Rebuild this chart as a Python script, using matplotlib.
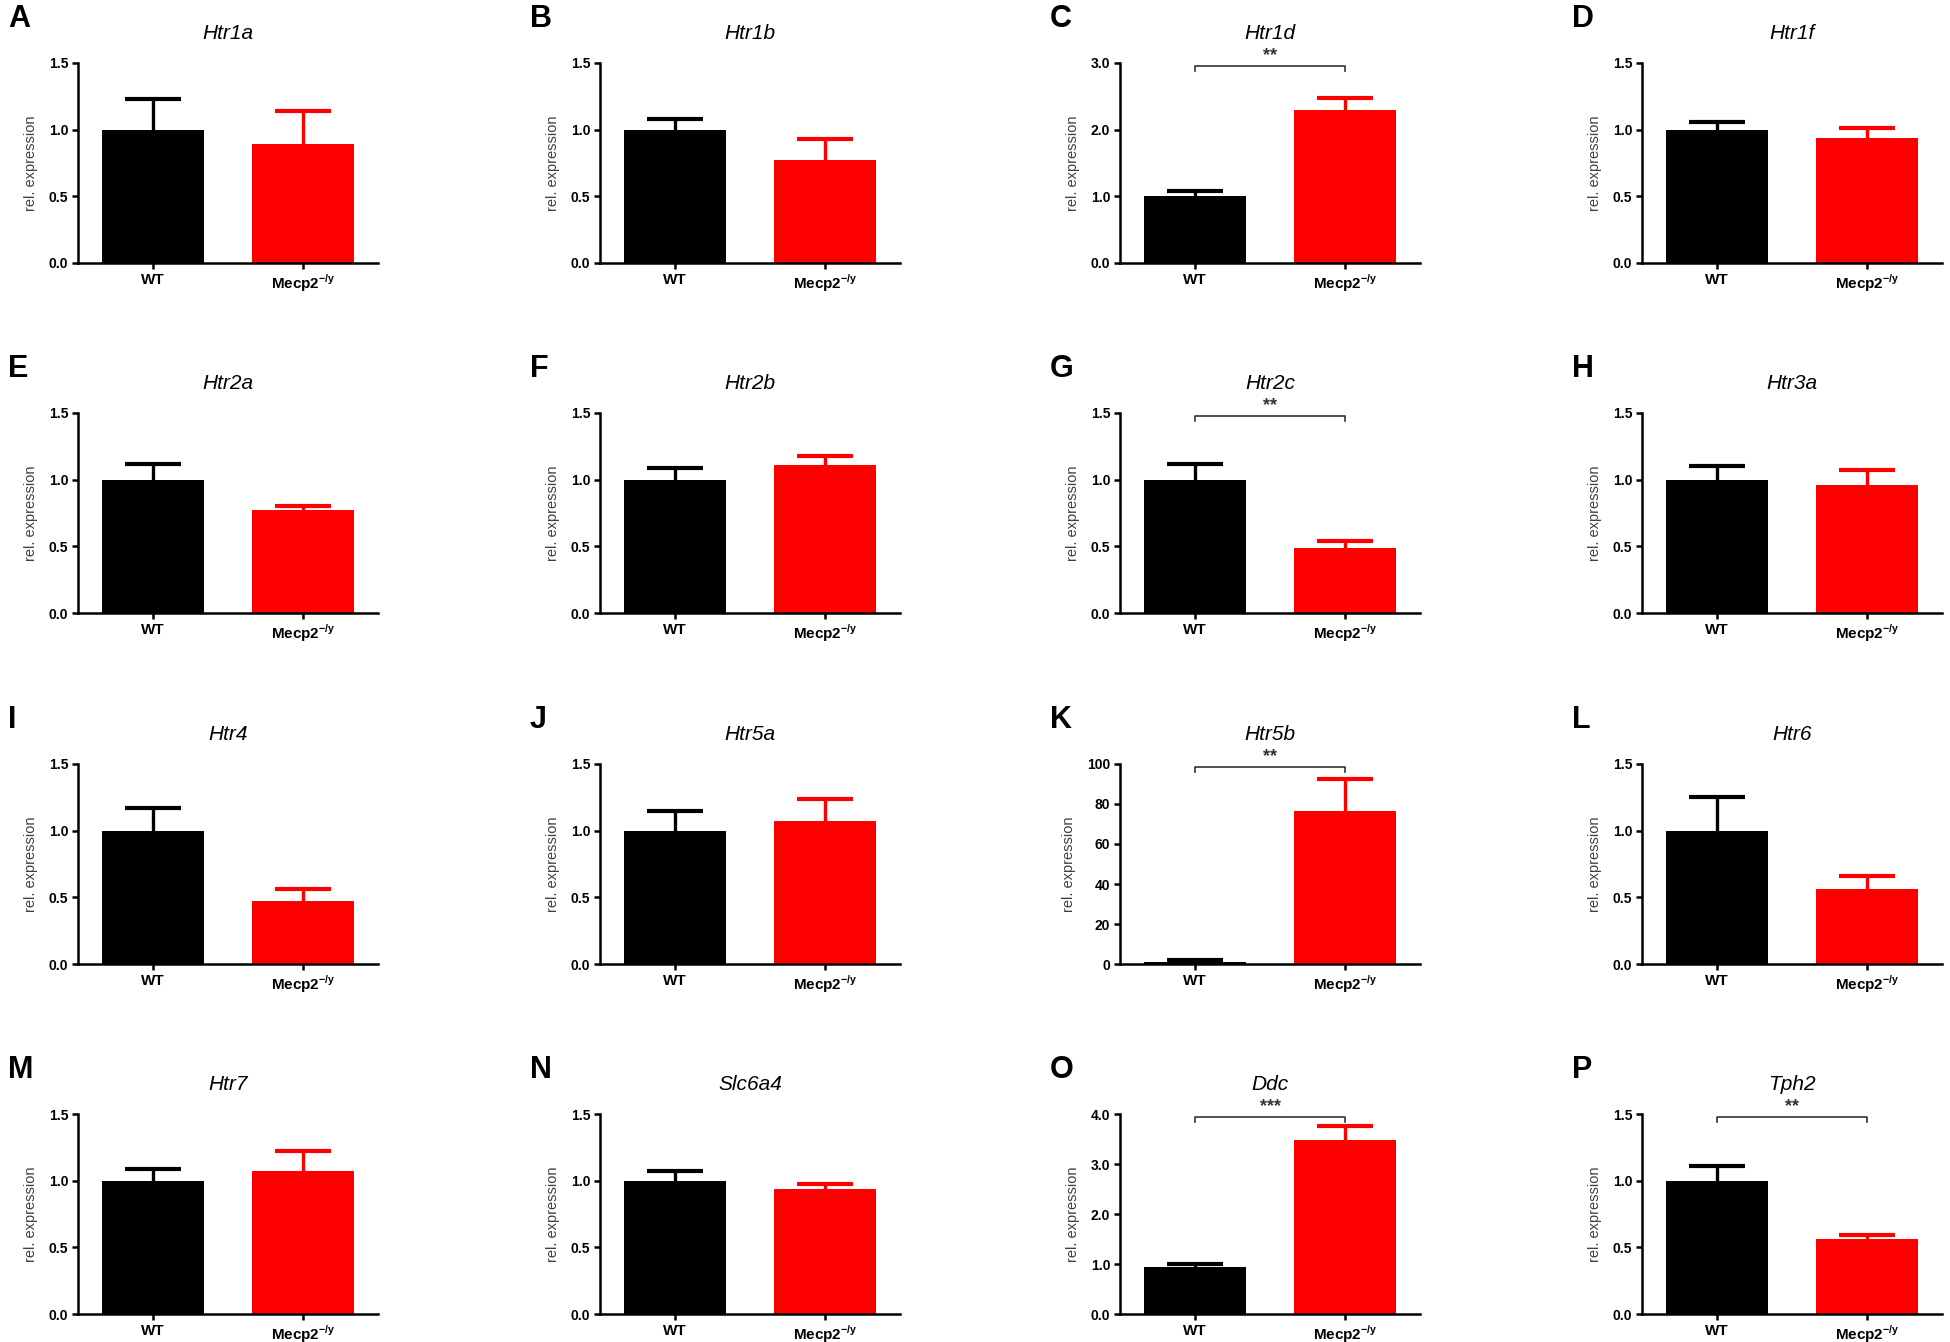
import numpy as np
import matplotlib.pyplot as plt

plt.rcParams['font.family'] = ['Liberation Sans', 'DejaVu Sans']
plt.rcParams['mathtext.fontset'] = 'custom'
plt.rcParams['mathtext.rm'] = 'Liberation Sans'
plt.rcParams['mathtext.bf'] = 'Liberation Sans:bold'

# panel data
letters = list("ABCDEFGHIJKLMNOP")
genes = ["Htr1a", "Htr1b", "Htr1d", "Htr1f",
         "Htr2a", "Htr2b", "Htr2c", "Htr3a",
         "Htr4", "Htr5a", "Htr5b", "Htr6",
         "Htr7", "Slc6a4", "Ddc", "Tph2"]
groups = ["WT", r"Mecp2$^{\mathbf{-/y}}$"]
wt_mean = [1.0, 1.0, 1.0, 1.0, 1.0, 1.0, 1.0, 1.0,
           1.0, 1.0, 1.0, 1.0, 1.0, 1.0, 0.95, 1.0]
wt_sem = [0.23, 0.08, 0.08, 0.06, 0.12, 0.09, 0.12, 0.10,
          0.17, 0.15, 0.8, 0.25, 0.09, 0.07, 0.05, 0.11]
ko_mean = [0.89, 0.77, 2.29, 0.94, 0.77, 1.11, 0.49, 0.96,
           0.47, 1.07, 76.7, 0.56, 1.07, 0.94, 3.48, 0.56]
ko_sem = [0.25, 0.16, 0.18, 0.07, 0.03, 0.07, 0.05, 0.11,
          0.09, 0.17, 15.8, 0.10, 0.15, 0.035, 0.29, 0.035]
ymax = [1.5, 1.5, 3.0, 1.5, 1.5, 1.5, 1.5, 1.5,
        1.5, 1.5, 100, 1.5, 1.5, 1.5, 4.0, 1.5]
ystep = [0.5, 0.5, 1.0, 0.5, 0.5, 0.5, 0.5, 0.5,
         0.5, 0.5, 20, 0.5, 0.5, 0.5, 1.0, 0.5]
stars = {"C": "**", "G": "**", "K": "**", "O": "***", "P": "**"}

W, H = 1950, 1342
fig = plt.figure(figsize=(W / 100, H / 100), dpi=100)

col_x = [78, 600, 1120, 1642]
row_bottom = [263, 613, 964, 1314]
ax_w, ax_h = 300, 200
colors = ["black", "#ff0000"]

for i, letter in enumerate(letters):
    r, c = divmod(i, 4)
    x0 = col_x[c]
    y0 = row_bottom[r]
    ax = fig.add_axes([x0 / W, 1 - y0 / H, ax_w / W, ax_h / H])

    means = [wt_mean[i], ko_mean[i]]
    errs = [wt_sem[i], ko_sem[i]]
    for j in range(2):
        ax.bar(j, means[j], width=0.68, color=colors[j], zorder=2)
        _, caps, _ = ax.errorbar(j, means[j], yerr=[[0], [errs[j]]],
                                 color=colors[j], elinewidth=2.4,
                                 capsize=20, capthick=3, zorder=1)
        # keep only the upper cap
        for cap in caps:
            if np.isclose(cap.get_ydata()[0], means[j]):
                cap.set_visible(False)

    ax.set_xlim(-0.5, 1.5)
    ax.set_ylim(0, ymax[i])
    ticks = np.arange(0, ymax[i] + ystep[i] / 2, ystep[i])
    ax.set_yticks(ticks)
    if ymax[i] >= 10:
        ax.set_yticklabels([f"{t:.0f}" for t in ticks])
    else:
        ax.set_yticklabels([f"{t:.1f}" for t in ticks])
    ax.set_xticks([0, 1])
    ax.set_xticklabels(groups)

    for s in ["top", "right"]:
        ax.spines[s].set_visible(False)
    for s in ["left", "bottom"]:
        ax.spines[s].set_linewidth(1.8)
    ax.tick_params(axis="both", width=1.8, length=4, pad=3)
    ax.tick_params(axis="y", labelsize=10)
    ax.tick_params(axis="x", labelsize=11)
    for lab in ax.get_yticklabels() + ax.get_xticklabels():
        lab.set_fontweight("bold")

    ax.set_ylabel("rel. expression", fontsize=10.5, color="#404040", labelpad=8)
    ax.set_title(genes[i], fontsize=15, fontstyle="italic", pad=17)

    # panel letter
    fig.text((x0 - 70) / W, 1 - (y0 - ax_h - 44) / H, letter,
             fontsize=22, fontweight="bold", va="center", ha="left")

    # significance bracket
    if letter in stars:
        yb = ymax[i] * 0.985
        d = ymax[i] * 0.025
        ax.plot([0, 0, 1, 1], [yb - d, yb, yb, yb - d], color="#333333",
                lw=1.2, clip_on=False)
        ax.text(0.5, yb + ymax[i] * 0.01, stars[letter], ha="center",
                va="bottom", fontsize=13, fontweight="bold", color="#333333")

fig.savefig("out.png", dpi=100)
